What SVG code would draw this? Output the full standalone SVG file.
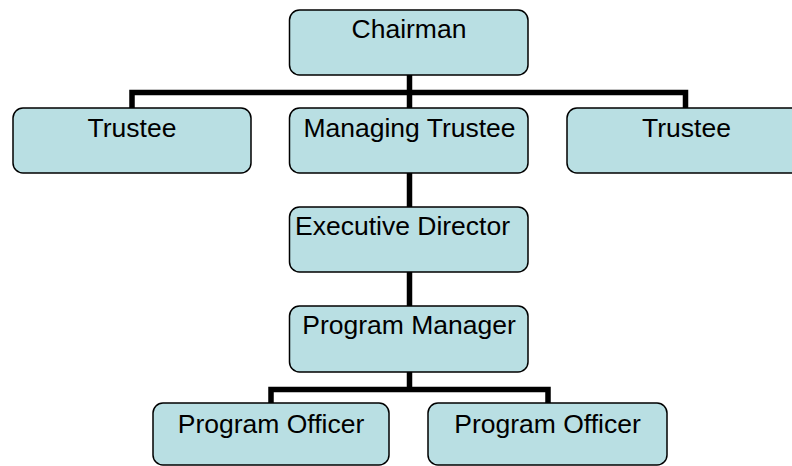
<svg xmlns="http://www.w3.org/2000/svg" width="792" height="466" viewBox="0 0 792 466">
<style>
.box{fill:#B9DFE3;stroke:#000;stroke-width:1.5}
.lbl{font-family:"Liberation Sans",Arial,sans-serif;font-size:26.5px;fill:#000;text-anchor:middle}
.conn{fill:none;stroke:#000;stroke-width:5.5;stroke-linejoin:miter;stroke-linecap:butt}
</style>
<rect width="792" height="466" fill="#fff"/>
<g id="connectors">
<polyline class="conn" points="132,108 132,92.5 685.5,92.5 685.5,108"/>
<line class="conn" x1="409.5" y1="75" x2="409.5" y2="108"/>
<line class="conn" x1="409.5" y1="173" x2="409.5" y2="207"/>
<line class="conn" x1="409.5" y1="272" x2="409.5" y2="306"/>
<line class="conn" x1="409.5" y1="372" x2="409.5" y2="389.5"/>
<polyline class="conn" points="271,403 271,389.5 548,389.5 548,403"/>
</g>
<g id="chairman"><rect class="box" x="289.5" y="10" width="238.5" height="65" rx="10"/><text class="lbl" x="409" y="38">Chairman</text></g>
<g id="trustee-left"><rect class="box" x="13" y="108" width="238" height="65" rx="10"/><text class="lbl" x="132" y="137">Trustee</text></g>
<g id="managing-trustee"><rect class="box" x="289.5" y="108" width="238.5" height="65" rx="10"/><text class="lbl" x="409.5" y="137">Managing Trustee</text></g>
<g id="trustee-right"><rect class="box" x="567" y="108" width="238" height="65" rx="10"/><text class="lbl" x="686.5" y="137">Trustee</text></g>
<g id="executive-director"><rect class="box" x="289.5" y="207" width="238.5" height="65" rx="10"/><text class="lbl" x="295" y="235" style="text-anchor:start">Executive Director</text></g>
<g id="program-manager"><rect class="box" x="289.5" y="306" width="238.5" height="66" rx="10"/><text class="lbl" x="409" y="334">Program Manager</text></g>
<g id="program-officer-left"><rect class="box" x="153" y="403" width="236" height="62" rx="10"/><text class="lbl" x="271" y="433">Program Officer</text></g>
<g id="program-officer-right"><rect class="box" x="428" y="403" width="239" height="62" rx="10"/><text class="lbl" x="547.5" y="433">Program Officer</text></g>
</svg>
